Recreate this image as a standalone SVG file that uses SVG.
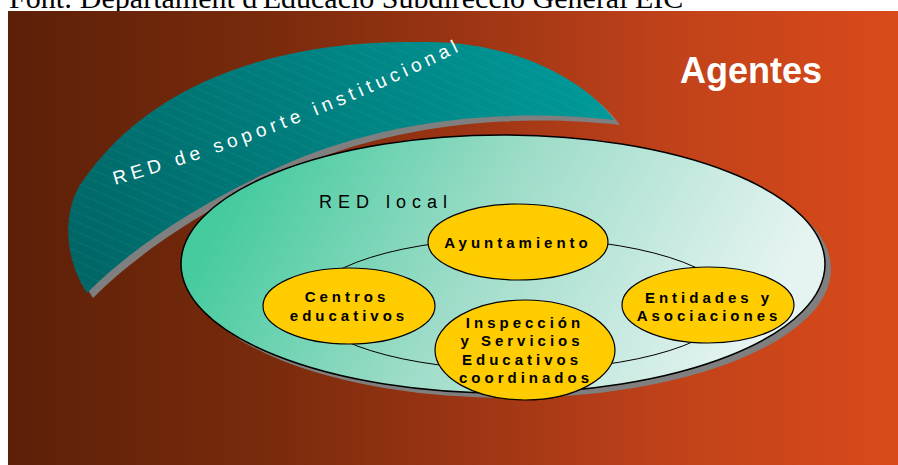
<svg xmlns="http://www.w3.org/2000/svg" xmlns:xlink="http://www.w3.org/1999/xlink" width="898" height="465" viewBox="0 0 898 465">
<style>
.node ellipse{fill:#ffcc00;stroke:#000;stroke-width:1.2}
.lbl{font-family:"Liberation Sans",Arial,sans-serif;font-weight:bold;font-size:15px;letter-spacing:4px;fill:#000;text-anchor:middle}
.shadow{fill:#7f7f7f}
</style>
<defs>
<linearGradient id="bg" x1="8" y1="0" x2="898" y2="0" gradientUnits="userSpaceOnUse">
<stop offset="0" stop-color="#5c2008"/>
<stop offset="0.3" stop-color="#7a2b0c"/>
<stop offset="0.5" stop-color="#9a3413"/>
<stop offset="0.75" stop-color="#c1421a"/>
<stop offset="1" stop-color="#d94a1a"/>
</linearGradient>
<linearGradient id="teal" x1="90" y1="290" x2="600" y2="60" gradientUnits="userSpaceOnUse">
<stop offset="0" stop-color="#006666"/>
<stop offset="1" stop-color="#009a9a"/>
</linearGradient>
<pattern id="hatch" width="9" height="9" patternUnits="userSpaceOnUse" patternTransform="rotate(24)">
<line x1="0" y1="0.5" x2="9" y2="0.5" stroke="#8aa" stroke-opacity="0.18" stroke-width="0.6"/>
</pattern>
<linearGradient id="plate" x1="260" y1="150" x2="720" y2="400" gradientUnits="userSpaceOnUse">
<stop offset="0" stop-color="#46cb9f"/>
<stop offset="0.45" stop-color="#9ddcc8"/>
<stop offset="1" stop-color="#e6f4f1"/>
</linearGradient>
<path id="tealShape" d="M 614,120 C 590,85 520,40 420,42 C 280,40 150,80 80,185 C 62,215 65,260 87,293 C 130,250 200,200 300,158 C 420,110 540,112 614,120 Z"/>
<path id="arcText" d="M 115,185 Q 290,135 462,50" fill="none"/>
</defs>

<text x="9" y="7.5" font-family="'Liberation Serif','Times New Roman',serif" font-size="30" fill="#000">Font: Departament d'Educació Subdirecció General EIC</text>

<rect x="8" y="11" width="890" height="454" fill="url(#bg)"/>

<g id="red-soporte">
<use xlink:href="#tealShape" href="#tealShape" class="shadow" transform="translate(6,5)"/>
<use xlink:href="#tealShape" href="#tealShape" fill="url(#teal)"/>
<use xlink:href="#tealShape" href="#tealShape" fill="url(#hatch)"/>
<text font-family="'Liberation Sans',Arial,sans-serif" font-size="19" letter-spacing="4.8" fill="#fff"><textPath xlink:href="#arcText" href="#arcText">RED de soporte institucional</textPath></text>
</g>

<g id="red-local">
<ellipse cx="509" cy="269" rx="322" ry="129" class="shadow"/>
<ellipse cx="503" cy="264" rx="322" ry="129" fill="url(#plate)" stroke="#000" stroke-width="1.5"/>
<text x="319" y="208" font-family="'Liberation Sans',Arial,sans-serif" font-size="18" letter-spacing="6" fill="#000">RED local</text>
</g>

<g id="connectors">
<ellipse cx="520" cy="304" rx="211" ry="66" fill="none" stroke="#000" stroke-width="1"/>
</g>

<g id="ayuntamiento" class="node">
<ellipse cx="518" cy="242" rx="90" ry="38"/>
<text class="lbl" x="518" y="248">Ayuntamiento</text>
</g>

<g id="centros" class="node">
<ellipse cx="349" cy="306" rx="86" ry="38"/>
<text class="lbl" x="347" y="302">Centros</text>
<text class="lbl" x="349" y="321">educativos</text>
</g>

<g id="entidades" class="node">
<ellipse cx="708" cy="305" rx="86" ry="38"/>
<text class="lbl" x="709" y="303">Entidades y</text>
<text class="lbl" x="709" y="321">Asociaciones</text>
</g>

<g id="inspeccion" class="node">
<ellipse cx="525" cy="350" rx="90" ry="50"/>
<text class="lbl" x="525" y="328">Inspección</text>
<text class="lbl" x="522" y="346">y Servicios</text>
<text class="lbl" x="522" y="365">Educativos</text>
<text class="lbl" x="526" y="383">coordinados</text>
</g>

<text id="agentes" x="751" y="83" font-family="'Liberation Sans',Arial,sans-serif" font-weight="bold" font-size="36" fill="#fff" text-anchor="middle">Agentes</text>
</svg>
